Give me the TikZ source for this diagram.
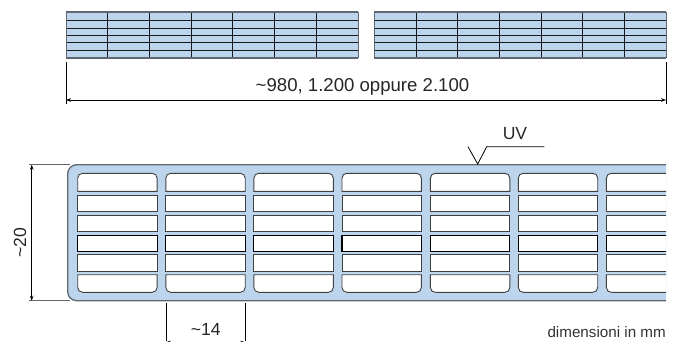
\documentclass[tikz,border=0pt]{standalone}
\usepackage{fontspec}
\setmainfont{Liberation Sans}
\usetikzlibrary{arrows.meta}
\definecolor{panel}{HTML}{BCD4EC}
\definecolor{edge}{HTML}{5F6770}
\tikzset{
  grid line/.style={draw=black!90,line width=0.75pt},
  grid edge/.style={draw=edge,line width=1.1pt},
  ext line/.style={draw=black,line width=0.6pt},
  dim line/.style={draw=black,line width=0.7pt,{Stealth[length=5pt,width=3.6pt]}-{Stealth[length=5pt,width=3.6pt]}},
  hole/.style={draw=black!75,line width=0.9pt,fill=white},
  label text/.style={inner sep=0pt,font=\fontsize{17.6}{20}\selectfont,text=black!85},
  note text/.style={inner sep=0pt,font=\fontsize{15.2}{18}\selectfont,text=black!80}
}
\newcommand{\toppanel}[2]{%
  \fill[panel] (#1,12) rectangle (#2,58);
  \foreach \yy in {20.3,28,35.3,42.7,50}{\draw[grid line] (#1,\yy) -- (#2,\yy);}
  \foreach \k in {1,...,6}{\draw[grid line] ({#1+\k*(#2-#1)/7},12) -- ({#1+\k*(#2-#1)/7},58);}
  \draw[grid edge] (#1,12) -- (#2,12);
  \draw[grid edge] (#1,58) -- (#2,58);
  \draw[draw=edge,line width=0.6pt] (#1,12) -- (#1,58);
  \draw[draw=edge,line width=0.6pt] (#2,12) -- (#2,58);
}
\begin{document}
\begin{tikzpicture}[x=1pt,y=-1pt]
\useasboundingbox (0,0) rectangle (678,341);
\clip (0,0) rectangle (678,341);
% top view panels
\toppanel{66}{358}
\toppanel{374.3}{666}
% overall length dimension
\coordinate (la) at (66,62);
\coordinate (lb) at (66,104);
\coordinate (ra) at (666,62);
\coordinate (rb) at (666,104);
\coordinate (lm) at (66,100);
\coordinate (rm) at (666,100);
\draw[ext line] (la) -- (lb);
\draw[ext line] (ra) -- (rb);
\draw[dim line] (lm) -- (rm);
\node[label text,font=\fontsize{18.6}{20}\selectfont] (len) at (362.5,87) {\textasciitilde 980, 1.200 oppure 2.100};
% section
\begin{scope}
\clip (0,150) rectangle (666,341);
\draw[draw=edge,line width=1.3pt,fill=panel,rounded corners=9pt] (700,164.7) -- (67.7,164.7) -- (67.7,300.7) -- (700,300.7);
\foreach \cx in {77.7,165.8,253.9,342,430.4,518.3,606.4}{
  \pgfmathsetmacro{\cxr}{\cx+79.4}
  \draw[hole] (\cx,191.3) -- (\cx,178.3) .. controls (\cx,175.3) and ({\cx+2},173.3) .. ({\cx+5},173.3) -- ({\cxr-5},173.3) .. controls ({\cxr-2},173.3) and (\cxr,175.3) .. (\cxr,178.3) -- (\cxr,191.3) -- cycle;
  \draw[hole] (\cx,195) rectangle (\cxr,211.7);
  \draw[hole] (\cx,215.3) rectangle (\cxr,231.3);
  \draw[hole,draw=black,line width=1.1pt] (\cx,235.3) rectangle (\cxr,251.3);
  \draw[hole] (\cx,254.7) rectangle (\cxr,271);
  \draw[hole] (\cx,274.7) -- (\cx,287.3) .. controls (\cx,290.3) and ({\cx+2},292.3) .. ({\cx+5},292.3) -- ({\cxr-5},292.3) .. controls ({\cxr-2},292.3) and (\cxr,290.3) .. (\cxr,287.3) -- (\cxr,274.7) -- cycle;
}
\end{scope}
% height dimension
\coordinate (ha) at (29,164.7);
\coordinate (hb) at (70,164.7);
\coordinate (hc) at (29,300.7);
\coordinate (hd) at (70,300.7);
\coordinate (he) at (31.7,164.7);
\coordinate (hf) at (31.7,300.7);
\draw[draw=edge,line width=0.9pt] (ha) -- (hb);
\draw[draw=edge,line width=0.9pt] (hc) -- (hd);
\draw[dim line] (he) -- (hf);
\node[label text,rotate=90] (hgt) at (20,242.5) {\textasciitilde 20};
% pitch dimension
\coordinate (pa) at (165.8,303);
\coordinate (pb) at (165.8,341);
\coordinate (pc) at (245.3,303);
\coordinate (pd) at (245.3,341);
\coordinate (pe) at (165.8,342.4);
\coordinate (pf) at (245.3,342.4);
\draw[ext line] (pa) -- (pb);
\draw[ext line] (pc) -- (pd);
\draw[dim line] (pe) -- (pf);
\node[label text] (pit) at (205.7,329.5) {\textasciitilde 14};
% surface mark
\coordinate (ua) at (468,146.7);
\coordinate (ub) at (477.7,164);
\coordinate (uc) at (486.7,146.7);
\coordinate (ud) at (544.3,146.7);
\draw[ext line,line width=0.8pt] (ua) -- (ub) -- (uc) -- (ud);
\node[label text] (uv) at (515,134) {UV};
\node[note text,anchor=east] (note) at (666,332.5) {dimensioni in mm};
\end{tikzpicture}
\end{document}
